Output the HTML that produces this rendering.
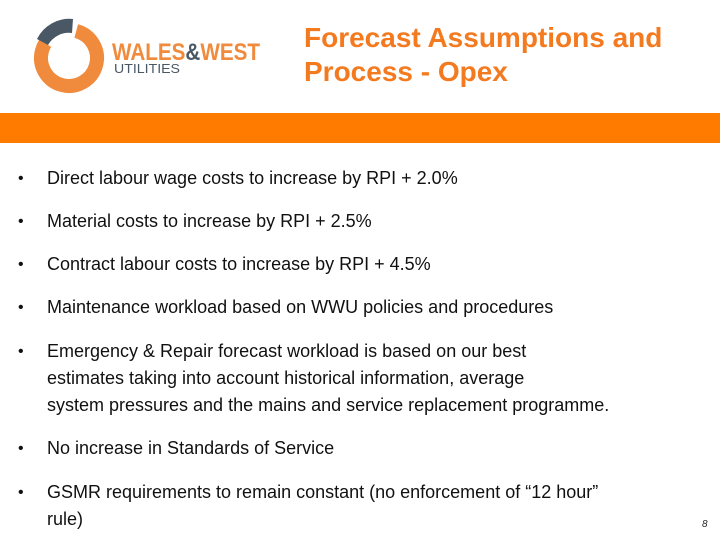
<!DOCTYPE html>
<html><head><meta charset="utf-8"><style>
body{margin:0;width:720px;height:540px;background:#fff;position:relative;overflow:hidden;font-family:"Liberation Sans",sans-serif}
.t{position:absolute;left:304px;top:21px;color:#f47a20;font-weight:bold;font-size:28px;line-height:34px;white-space:nowrap}
.bar{position:absolute;left:0;top:113px;width:720px;height:30px;background:#ff7b00}
.b{position:absolute;left:18px;font-size:18px;color:#111;line-height:27px;white-space:nowrap}
.b span{position:absolute;left:0;font-size:16px}
.b div{margin-left:29px}
.pg{position:absolute;left:702px;top:519px;font-size:10px;font-style:italic;color:#222}
</style></head><body>
<svg style="position:absolute;left:0;top:0" width="290" height="110">
<circle cx="69" cy="58" r="28" fill="none" stroke="#f08a3c" stroke-width="14" stroke-dasharray="140 200" transform="rotate(-75 69 58)"/>
<path d="M37 39 A36 36 0 0 1 73 19 L72 33 A24 24 0 0 0 48 45 Z" fill="#4a5866"/>
<text x="112" y="60" font-size="24" font-weight="bold" fill="#f08a3c" font-family="Liberation Sans" textLength="148" lengthAdjust="spacingAndGlyphs">WALES<tspan fill="#4a5866">&amp;</tspan>WEST</text>
<text x="114" y="73" font-size="13" fill="#4a5866" font-family="Liberation Sans" textLength="66" lengthAdjust="spacingAndGlyphs">UTILITIES</text>
</svg>
<div class="t">Forecast Assumptions and<br>Process - Opex</div>
<div class="bar"></div>
<div class="b" style="top:165px"><span>•</span><div>Direct labour wage costs to increase by RPI + 2.0%</div></div>
<div class="b" style="top:208px"><span>•</span><div>Material costs to increase by RPI + 2.5%</div></div>
<div class="b" style="top:251px"><span>•</span><div>Contract labour costs to increase by RPI + 4.5%</div></div>
<div class="b" style="top:294px"><span>•</span><div>Maintenance workload based on WWU policies and procedures</div></div>
<div class="b" style="top:338px"><span>•</span><div>Emergency &amp; Repair forecast workload is based on our best<br>estimates taking into account historical information, average<br>system pressures and the mains and service replacement programme.</div></div>
<div class="b" style="top:435px"><span>•</span><div>No increase in Standards of Service</div></div>
<div class="b" style="top:479px"><span>•</span><div>GSMR requirements to remain constant (no enforcement of “12 hour”<br>rule)</div></div>
<div class="pg">8</div>
</body></html>
